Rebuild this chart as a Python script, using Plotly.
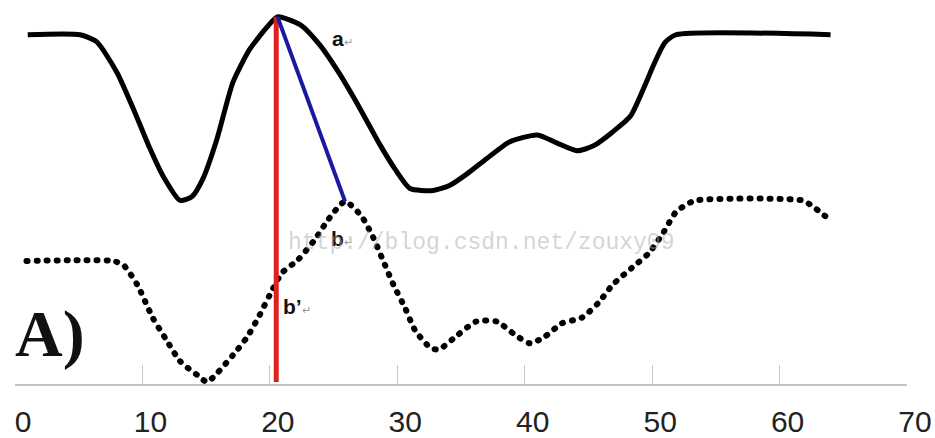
import plotly.graph_objects as go
import numpy as np

# ---- data (x in axis units, y = height above the baseline) ----
solid_x = [1.0, 5.1, 6.4, 8.0, 9.3, 10.6, 11.6, 12.95, 13.9, 14.75, 15.85, 17.1, 18.4, 19.8,
           20.6, 22.4, 23.9, 25.5, 27.1, 28.6, 29.8, 31.0, 32.8, 34.1, 35.5, 37.0, 38.8,
           41.0, 42.5, 44.1, 45.4, 46.9, 48.3, 49.3, 50.2, 51.0, 51.9, 64.0]
solid_y = [350, 350, 343, 312, 275, 235, 208, 183, 187, 205, 245, 302, 335, 358,
           368, 360, 340, 310, 275, 240, 215, 195, 193, 198, 210, 225, 242,
           249, 241, 233, 238, 252, 268, 295, 322, 342, 350, 350]

dotted_x = [0.9, 7.7, 8.5, 9.6, 10.8, 11.9, 12.95, 14.3, 15.07, 15.8, 17.1, 18.2, 19.1, 20.0,
            20.95, 22.2, 23.5, 24.6, 25.9, 27.2, 28.1, 28.9, 29.7, 30.6, 31.4, 32.65, 33.3,
            34.7, 36.2, 37.8, 39.3, 40.4, 41.5, 42.9, 44.5, 45.8, 46.9, 48.4, 49.75, 50.85,
            51.9, 52.6, 53.4, 61.8, 62.6, 63.3, 64.0]
dotted_y = [122, 122, 118, 98, 65, 42, 21, 7, 0, 8, 27, 45, 65, 88,
            110, 123, 143, 164, 182, 167, 146, 122, 98, 75, 52, 34, 33,
            47, 61, 61, 47, 39, 45, 59, 65, 80, 98, 115, 130, 150,
            172, 178, 183, 183, 177, 170, 163]

tick_vals = [0, 10, 20, 30, 40, 50, 60, 70]
tick_text = ["0", "10", "20", "30", "40", "50", "60", "70"]

# points a (peak of solid curve) and b (first peak of dotted curve)
ia = int(np.argmax(solid_y))
a_x, a_y = solid_x[ia], solid_y[ia]
first_half = [i for i, v in enumerate(dotted_x) if v < 30]
ib = max(first_half, key=lambda i: dotted_y[i])
b_x, b_y = dotted_x[ib], dotted_y[ib]

fig = go.Figure()
fig.add_trace(go.Scatter(x=dotted_x, y=dotted_y, mode="lines",
                         line=dict(color="black", width=6, dash="1px,9px", shape="spline", smoothing=0.6),
                         hoverinfo="skip"))
fig.add_trace(go.Scatter(x=solid_x, y=solid_y, mode="lines",
                         line=dict(color="black", width=5, shape="spline", smoothing=0.6),
                         hoverinfo="skip"))
fig.add_trace(go.Scatter(x=[a_x - 0.1, a_x - 0.1], y=[0, a_y], mode="lines",
                         line=dict(color="#e0201c", width=5), hoverinfo="skip"))
fig.add_trace(go.Scatter(x=[a_x, b_x], y=[a_y, b_y], mode="lines",
                         line=dict(color="#1a1aa0", width=4), hoverinfo="skip"))

ret = "<span style='color:#9a9a9a;font-size:11px;font-weight:normal'>\u21b5</span>"
lab_font = dict(family="Liberation Sans", size=21, color="#111")
fig.add_annotation(x=25.7, y=346, text="<b>a</b>" + ret, showarrow=False, font=lab_font)
fig.add_annotation(x=25.7, y=145, text="<b>b</b>" + ret, showarrow=False, font=lab_font)
fig.add_annotation(x=22.1, y=76, text="<b>b\u2019</b>" + ret, showarrow=False, font=lab_font)
fig.add_annotation(x=2.75, y=48, text="<b>A)</b>", showarrow=False,
                   font=dict(family="Liberation Serif", size=66, color="#111"))
fig.add_annotation(x=36.6, y=140, text="http://blog.csdn.net/zouxy09", showarrow=False,
                   font=dict(family="Liberation Mono", size=23, color="rgba(170,170,170,0.5)"))

fig.update_layout(
    width=935, height=438,
    margin=dict(l=15, r=28, t=0, b=51),
    paper_bgcolor="white", plot_bgcolor="white",
    showlegend=False,
    xaxis=dict(range=[0, 70], tickvals=tick_vals, ticktext=tick_text,
               showgrid=False, zeroline=False, showline=True, linecolor="#c4c4c4", linewidth=2,
               ticks="inside", ticklen=19, tickcolor="#c8c8c8", tickwidth=1,
               tickfont=dict(family="Liberation Sans", size=30, color="#222"),
               ticklabelshift=8, ticklabelstandoff=10),
    yaxis=dict(range=[-2, 385], visible=False),
)

# round line caps so the dotted curve is drawn as round dots
post = """
var gd = document.getElementsByClassName('plotly-graph-div')[0];
function roundCaps(){
  var tr = gd.querySelectorAll('.scatterlayer .trace');
  if (tr.length) {
    var p = tr[0].querySelectorAll('path.js-line');
    p.forEach(function(e){ e.style.strokeLinecap = 'round'; });
  }
}
roundCaps();
gd.on && gd.on('plotly_afterplot', roundCaps);
"""
fig.write_html("out.html", post_script=post)
